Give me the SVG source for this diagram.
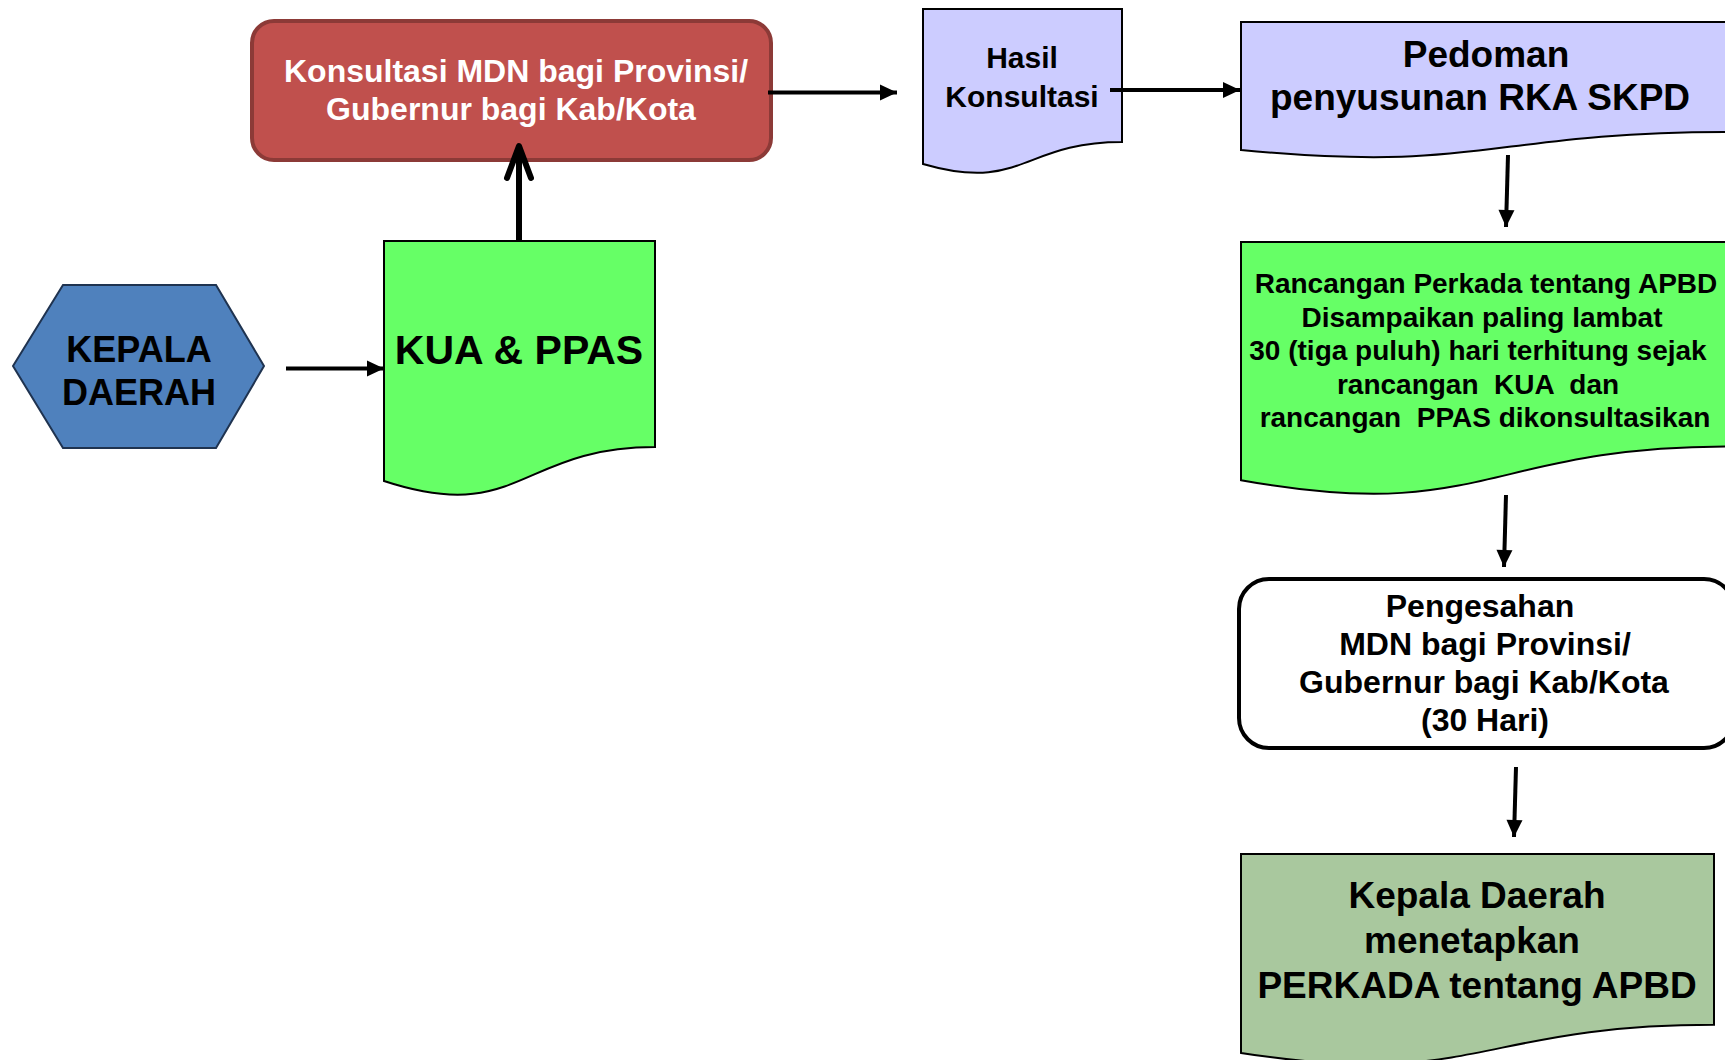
<svg xmlns="http://www.w3.org/2000/svg" width="1725" height="1060" viewBox="0 0 1725 1060">
<style>
text{font-family:"Liberation Sans",Arial,sans-serif;font-weight:bold;fill:#000;text-anchor:middle;white-space:pre}
.doc{stroke:#000;stroke-width:2}
.conn{stroke:#000;stroke-width:4;fill:none}
.thick{stroke-width:6}
</style>
<defs>
<marker id="ah" markerUnits="userSpaceOnUse" markerWidth="20" markerHeight="20" viewBox="0 0 20 20" refX="18" refY="10" orient="auto">
<path d="M1,2 L18,10 L1,18 Z" fill="#000"/>
</marker>
<marker id="open" markerUnits="userSpaceOnUse" markerWidth="44" markerHeight="44" viewBox="0 0 44 44" refX="38" refY="22" orient="auto" overflow="visible">
<path d="M6,10 L38,22 L6,34" fill="none" stroke="#000" stroke-width="6" stroke-linecap="round" stroke-linejoin="round"/>
</marker>
</defs>
<g id="kepala-daerah">
<polygon points="13,366 63,285 216,285 264,366 216,448 63,448" fill="#4f81bd" stroke="#1f3350" stroke-width="2"/>
<text x="139" y="362" font-size="36">KEPALA</text>
<text x="139" y="405" font-size="36">DAERAH</text>
</g>
<g id="kua-ppas">
<path class="doc" d="M384,241 H655 V447.1 C519.5,447.1 519.5,525.6 384,481 Z" fill="#66ff66"/>
<text x="519" y="364" font-size="41">KUA &amp; PPAS</text>
</g>
<g id="konsultasi">
<rect x="252" y="21" width="519" height="139" rx="22" fill="#c0504d" stroke="#8c3a37" stroke-width="4"/>
<text x="516" y="82" font-size="32" style="fill:#fff">Konsultasi MDN bagi Provinsi/</text>
<text x="511" y="120" font-size="32" style="fill:#fff">Gubernur bagi Kab/Kota</text>
</g>
<g id="hasil-konsultasi">
<path class="doc" d="M923,9 H1122 V142.1 C1022.5,142.1 1022.5,192.8 923,164 Z" fill="#ccccff"/>
<text x="1022" y="68" font-size="30">Hasil</text>
<text x="1022" y="107" font-size="30">Konsultasi</text>
</g>
<g id="pedoman">
<path class="doc" d="M1241,22 H1730 V131.9 C1485.5,131.9 1485.5,173.7 1241,150 Z" fill="#ccccff"/>
<text x="1486" y="67" font-size="37">Pedoman</text>
<text x="1480" y="110" font-size="37">penyusunan RKA SKPD</text>
</g>
<g id="rancangan">
<path class="doc" d="M1241,242 H1730 V446.5 C1485.5,446.5 1485.5,524.4 1241,480.2 Z" fill="#66ff66"/>
<text x="1486" y="293" font-size="28">Rancangan Perkada tentang APBD</text>
<text x="1482" y="326.5" font-size="28">Disampaikan paling lambat</text>
<text x="1478" y="360" font-size="28">30 (tiga puluh) hari terhitung sejak</text>
<text x="1478" y="393.5" font-size="28">rancangan  KUA  dan</text>
<text x="1485" y="427" font-size="28">rancangan  PPAS dikonsultasikan</text>
</g>
<g id="pengesahan">
<rect x="1239" y="579" width="495" height="169" rx="30" fill="#fff" stroke="#000" stroke-width="4"/>
<text x="1480" y="617" font-size="32">Pengesahan</text>
<text x="1485" y="655" font-size="32">MDN bagi Provinsi/</text>
<text x="1484" y="693" font-size="32">Gubernur bagi Kab/Kota</text>
<text x="1485" y="731" font-size="32">(30 Hari)</text>
</g>
<g id="penetapan">
<path class="doc" d="M1241,854 H1714 V1024.8 C1477.5,1024.8 1477.5,1089.9 1241,1052.9 Z" fill="#a9c89e"/>
<text x="1477" y="908" font-size="37">Kepala Daerah</text>
<text x="1472" y="953" font-size="37">menetapkan</text>
<text x="1477" y="998" font-size="37">PERKADA tentang APBD</text>
</g>
<g id="connectors">
<line class="conn" x1="286" y1="368.5" x2="384" y2="368.5" marker-end="url(#ah)"/>
<line class="conn thick" x1="519" y1="241" x2="519" y2="146" marker-end="url(#open)"/>
<line class="conn" x1="768" y1="92.5" x2="897" y2="92.5" marker-end="url(#ah)"/>
<line class="conn" x1="1110" y1="90" x2="1240" y2="90" marker-end="url(#ah)"/>
<line class="conn" x1="1508" y1="155" x2="1506" y2="227" marker-end="url(#ah)"/>
<line class="conn" x1="1506" y1="495" x2="1504" y2="567" marker-end="url(#ah)"/>
<line class="conn" x1="1516" y1="767" x2="1514" y2="837" marker-end="url(#ah)"/>
</g>
</svg>
